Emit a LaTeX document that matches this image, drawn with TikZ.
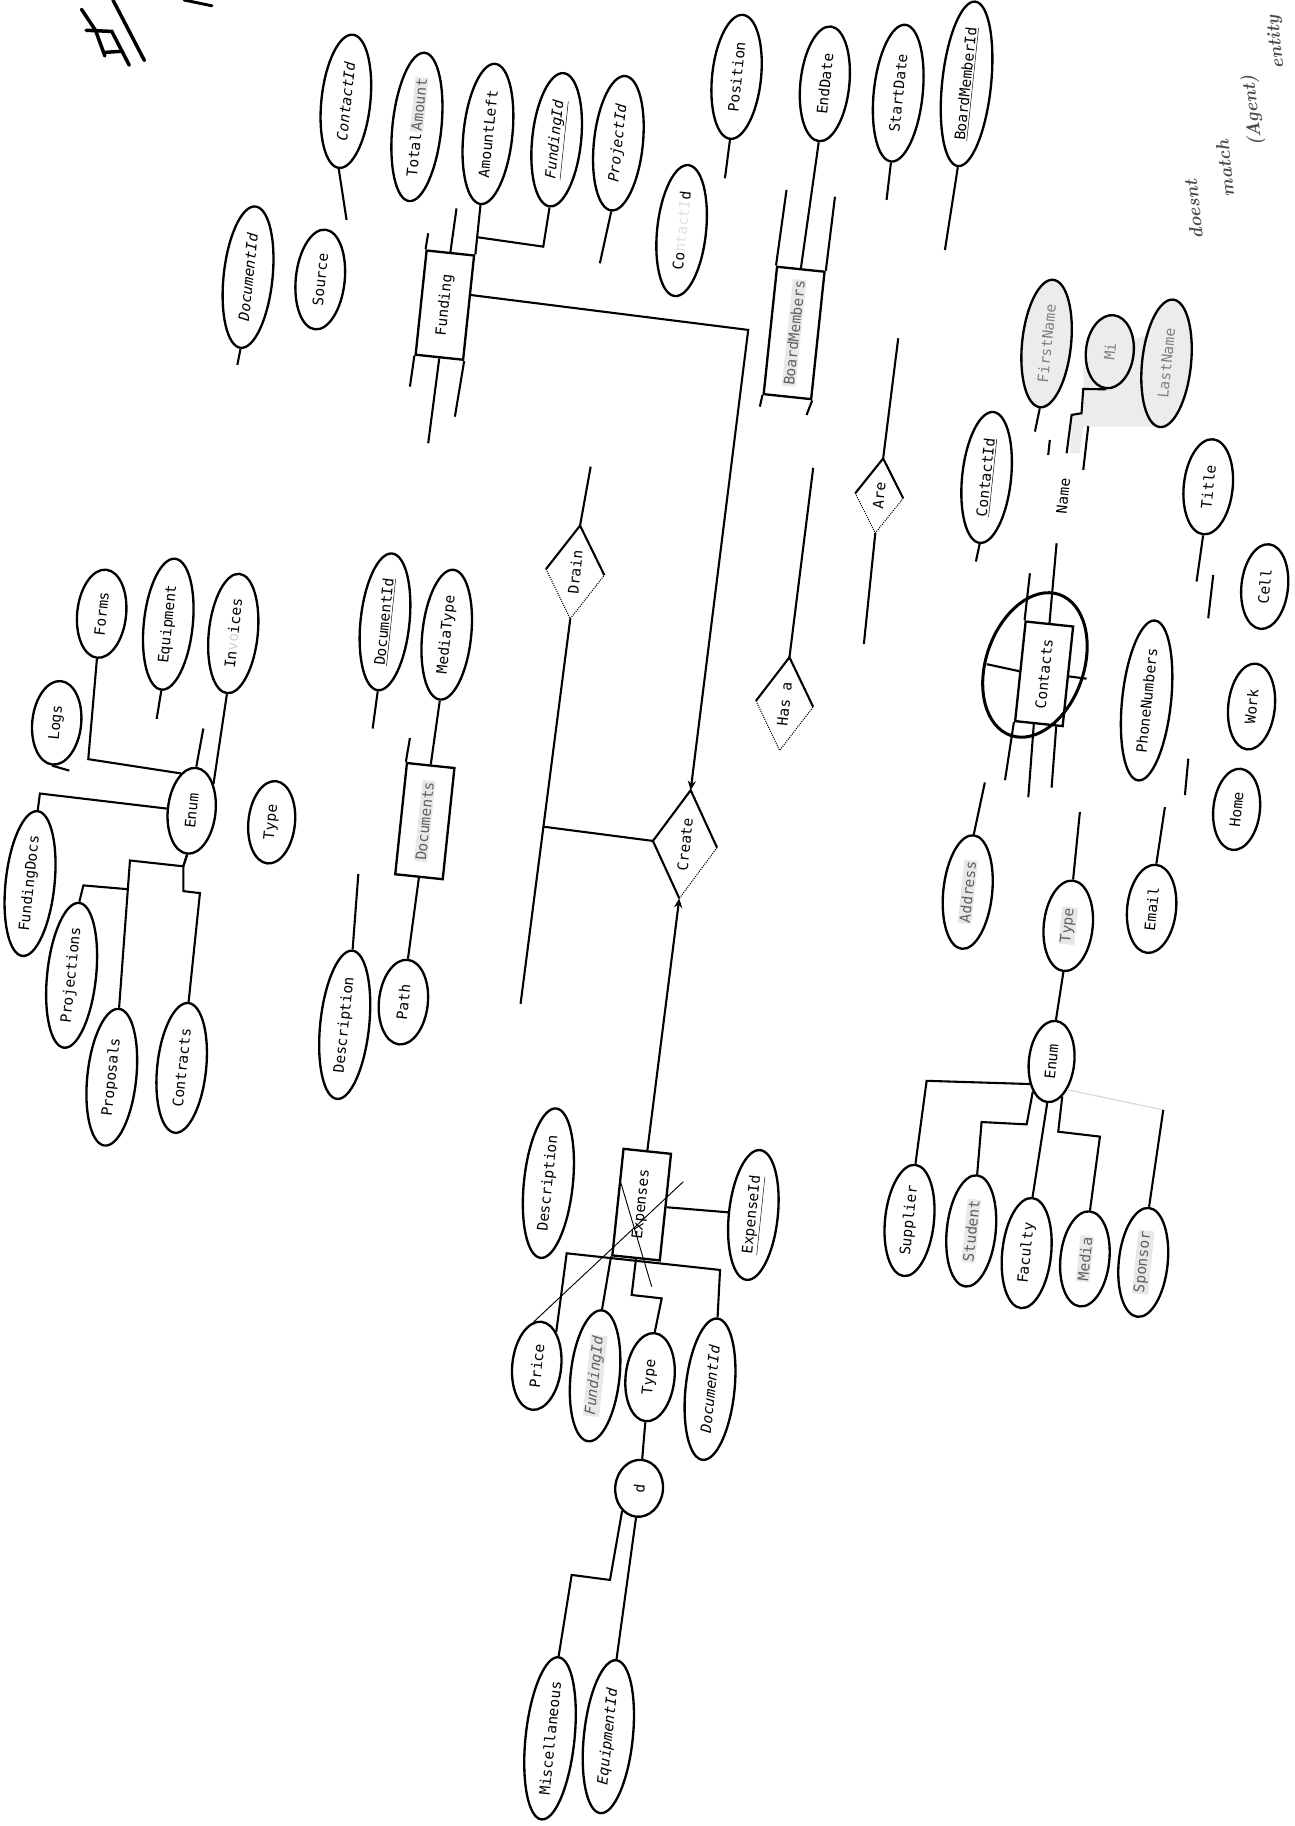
\documentclass[tikz,border=0pt]{standalone}
\usepackage{fontspec}
\setmonofont{DejaVu Sans Mono}
\usetikzlibrary{shapes.geometric,arrows.meta,calc}
\newcommand\hlt[1]{{\setlength{\fboxsep}{1pt}\colorbox{gray!18}{\textcolor{gray!75!black}{#1}}}}
\begin{document}
\begin{tikzpicture}[x=1pt,y=-1pt,
  lbl/.style={font=\ttfamily\fontsize{12.5}{14}\selectfont},
  attr/.style={ellipse, draw, line width=2pt, inner sep=0pt, rotate=84, minimum height=42pt, minimum width=#1, lbl},
  ent/.style={rectangle, draw, line width=2pt, inner sep=0pt, rotate=84, minimum height=41pt, minimum width=#1, lbl},
  rel/.style={diamond, inner sep=0pt, aspect=1.6, rotate=84, lbl},
  ln/.style={line width=1.8pt},
  faint/.style={line width=0.9pt, densely dotted},
  tip/.style={-{Stealth[length=8pt,width=7pt]}},
  hand/.style={font=\bfseries\itshape\fontsize{16}{17}\selectfont, text=black!70, rotate=96, inner sep=1pt},
]
\useasboundingbox (0,0) rectangle (1112,1568);

% ---------- handwriting ----------
\node[hand] (hw1) at (1025,180) {doesnt};
\node[hand] (hw2) at (1052,145) {match};
\node[hand] (hw3) at (1076,95) {(Agent)};
\node[hand] (hw4) at (1096,36) {entity};
\draw[line width=3pt, line cap=round] (97,0) -- (124,52);
\draw[line width=3pt, line cap=round] (70,8) -- (82,26) -- (90,48);
\draw[line width=3pt, line cap=round] (74,26) -- (96,27) -- (111,56);
\draw[line width=3pt, line cap=round] (90,45) -- (105,44);
\draw[line width=2.5pt, line cap=round] (158,0) -- (182,5);

% ---------- Funding cluster ----------
\node[attr=115pt] (cidF) at (297,87) {\itshape ContactId};
\node[attr=128pt] (tamt) at (358,109) {Total\hspace{1pt}\hlt{Amount}};
\node[attr=121pt] (aleft) at (419,115) {AmountLeft};
\node[attr=115pt] (fidF) at (478,120) {\itshape\underline{FundingId}};
\node[attr=116pt] (pid) at (531,123) {\itshape ProjectId};
\node[attr=122pt] (didF) at (213,238) {\itshape DocumentId};
\node[attr=86pt] (src) at (275,240) {Source};
\node[ent=90pt] (fund) at (382,262) {Funding};

\coordinate (fA) at (297.6,188.9);
\coordinate (fB) at (392,179);
\coordinate (fC) at (515.1,226.1);
\coordinate (fD) at (203.8,313.4);
\coordinate (fE) at (367.7,200.3);
\coordinate (fF) at (352,332);
\coordinate (fG) at (390.6,357.8);
\coordinate (fH) at (367.7,380.6);
\draw[ln] (cidF.west) -- (fA);
\draw[ln] (fund.east) -- (fB);
\draw[ln] (aleft.west) -- (fund.south east);
\draw[ln] (fidF.west) -- (466.5,211.8) -- ($(aleft.west)!0.65!(fund.south east)$);
\draw[ln] (pid.west) -- (fC);
\draw[ln] (didF.west) -- (fD);
\draw[ln] (fE) -- (fund.north east);
\draw[ln] (fund.north west) -- (fF);
\draw[ln] (fund.south west) -- (fG);
\draw[ln] (fund.west) -- (fH);

% ---------- BoardMembers cluster ----------
\node[attr=107pt] (pos) at (632.5,66) {Position};
\node[attr=99pt] (edate) at (708.3,72) {EndDate};
\node[attr=118pt] (sdate) at (771.3,80) {StartDate};
\node[attr=142pt] (bmid) at (830,72) {\underline{BoardMemberId}};
\node[attr=113pt] (cidB) at (585.3,198) {Co\textcolor{gray!25}{ntactI}d};
\node[ent=110pt] (bm) at (681.9,285.9) {\hlt{BoardMembers}};

\coordinate (bA) at (622.5,153.1);
\coordinate (bB) at (761.3,171.7);
\coordinate (bC) at (811.4,214.7);
\coordinate (bD) at (675.4,163.1);
\coordinate (bE) at (717,168.9);
\coordinate (bF) at (652.5,349.2);
\coordinate (bG) at (692.6,356.3);
\draw[ln] (pos.west) -- (bA);
\draw[ln] (edate.west) -- (bm.east);
\draw[ln] (sdate.west) -- (bB);
\draw[ln] (bmid.west) -- (bC);
\draw[ln] (bD) -- (bm.north east);
\draw[ln] (bE) -- (bm.south east);
\draw[ln] (bm.north west) -- (bF);
\draw[ln] (bm.south west) -- (bG);

% ---------- relationships ----------
\node[rel, minimum width=64pt, minimum height=41pt] (are) at (755,425.7) {Are};
\node[rel, minimum width=80pt, minimum height=49pt] (hasa) at (673.7,604.4) {Has a};
\node[rel, minimum width=80pt, minimum height=50pt] (drain) at (493.9,491.3) {Drain};
\node[rel, minimum width=93pt, minimum height=55pt] (create) at (588.2,725) {Create};
\foreach \r in {are,hasa,drain}{
  \draw[ln] (\r.north) -- (\r.east) -- (\r.south);
  \draw[faint] (\r.north) -- (\r.west) -- (\r.south);
}
\draw[ln] (create.west) -- (create.north) -- (create.east) -- (create.south);
\draw[faint] (create.south) -- (create.west);

\coordinate (aA) at (771.3,290.5);
\coordinate (aB) at (741.8,553.1);
\coordinate (hA) at (698.3,401.7);
\coordinate (dA) at (507.2,400.7);
\coordinate (dB) at (447,862);
\draw[ln] (are.east) -- (aA);
\draw[ln] (are.west) -- (aB);
\draw[ln] (hasa.east) -- (hA);
\draw[ln] (drain.east) -- (dA);
\draw[ln] (drain.west) -- (dB);
\coordinate (dJ) at ($(drain.west)!0.54!(dB)$);
\draw[ln] (create.north) -- (dJ);
\draw[ln,tip] (fund.-63) -- (642.5,283.3) -- (create.east);

% ---------- Documents cluster ----------
\node[attr=118pt] (didD) at (330.6,534) {\underline{DocumentId}};
\node[attr=112pt] (mtype) at (383.6,545) {MediaType};
\node[ent=96pt] (docs) at (364.8,705.1) {\hlt{Documents}};
\node[attr=128pt] (descD) at (296,880) {Description};
\node[attr=73pt] (path) at (346.4,860.5) {Path};
\coordinate (oA) at (320,625.6);
\coordinate (oB) at (352,633.8);
\coordinate (oC) at (307.7,750.5);
\draw[ln] (didD.west) -- (oA);
\draw[ln] (mtype.west) -- (docs.east);
\draw[ln] (oB) -- (docs.north east);
\draw[ln] (descD.east) -- (oC);
\draw[ln] (path.east) -- (docs.west);

% ---------- Documents Type enum ----------
\node[attr=74pt, minimum height=41pt] (enumA) at (164.6,696.2) {Enum};
\node[attr=71pt, minimum height=40pt] (typeA) at (233.3,706.1) {Type};
\node[attr=72pt] (logs) at (48.7,620.7) {Logs};
\node[attr=76pt] (forms) at (87.3,527) {Forms};
\node[attr=113pt] (equip) at (144.5,536) {Equipment};
\node[attr=103pt] (invo) at (200.3,544) {In\textcolor{gray!35}{vo}ices};
\node[attr=125pt] (fdocs) at (25.8,758.7) {FundingDocs};
\node[attr=125pt] (proj) at (61.5,837.5) {Projections};
\node[attr=118pt] (props) at (96,925) {Proposals};
\node[attr=112pt] (contr) at (156,917) {Contracts};
\coordinate (eA) at (59.5,661.7);
\coordinate (eB) at (134.5,617.4);
\coordinate (eC) at (174.6,625.6);
\draw[ln] (forms.west) -- (75.8,651.9) -- (enumA.22);
\draw[ln] (logs.west) -- (eA);
\draw[ln] (fdocs.east) -- (34.3,681.4) -- (enumA.91);
\draw[ln] (equip.west) -- (eB);
\draw[ln] (eC) -- (enumA.east);
\draw[ln] (invo.west) -- (enumA.-33);
\draw[ln] (enumA.west) -- (157.4,743.9) -- (111.6,738.9) -- (props.east);
\draw[ln] (enumA.west) -- (157.4,743.9) -- (157.4,765.2) -- (171.7,766.9) -- (contr.east);
\draw[ln] (proj.east) -- (71.6,760.3) -- ($(111.6,738.9)!0.195!(props.east)$);

% ---------- Contacts cluster ----------
\fill[gray!15] (930.2,332) -- (930.2,314.8) -- (978.8,289) -- (984.5,289) -- (996,366.3) -- (930.2,366.3) -- (927.3,389.2) -- (918.7,389.2) -- (920.2,354.9) -- (928.7,353.4) -- cycle;
\node[attr=110pt, fill=gray!15] (fname) at (898.7,295) {\textcolor{gray}{FirstName}};
\node[attr=63pt, minimum height=41pt, fill=gray!15] (mi) at (953,302) {\textcolor{gray}{Mi}};
\node[attr=110pt, fill=gray!15] (lname) at (1001.7,312) {\textcolor{gray}{LastName}};
\node[attr=113pt] (cidC) at (847.2,410) {\underline{ContactId}};
\node[lbl, rotate=84, inner sep=1pt] (name) at (913,426) {Name};
\node[ent=86pt] (cont) at (896.6,578.6) {Contacts};
\node[ellipse, draw, line width=2.6pt, minimum width=128pt, minimum height=84pt, rotate=71] (oval) at (888.7,571) {};
\node[attr=82pt] (title) at (1037.5,418) {Title};
\node[attr=73pt, minimum height=40pt] (cell) at (1086,503.7) {Cell};
\node[attr=74pt, minimum height=40pt] (work) at (1074.7,606.7) {Work};
\node[attr=70pt, minimum height=40pt] (home) at (1061.9,695) {Home};
\node[attr=138pt] (phone) at (984.6,601.5) {PhoneNumbers};
\node[attr=98pt] (addr) at (831,766) {\hlt{Address}};
\node[attr=78pt] (typeC) at (917.3,795) {\hlt{Type}};
\node[attr=76pt] (email) at (988.9,780.4) {Email};
\node[attr=70pt, minimum height=39pt] (enumB) at (903,911.5) {Enum};
\node[attr=96pt] (supp) at (781,1048) {Supplier};
\node[attr=96pt] (stud) at (834,1057) {\hlt{Student}};
\node[attr=95pt] (fac) at (881.6,1076) {Faculty};
\node[attr=82pt] (media) at (931.6,1081) {\hlt{Media}};
\node[attr=94pt] (spons) at (981.7,1084) {\hlt{Sponsor}};

\coordinate (nA) at (888.7,370.6);
\coordinate (nB1) at (901.5,377.8);
\coordinate (nB2) at (900.1,390.7);
\coordinate (nC) at (915.9,389.2);
\coordinate (nD1) at (934.5,366);
\coordinate (nD2) at (930.2,403.5);
\coordinate (nE) at (838,482.2);
\coordinate (nF) at (907.3,466.5);
\coordinate (nG) at (884.4,492.3);
\coordinate (nH) at (847.2,570.3);
\coordinate (nI) at (933.1,582.8);
\coordinate (nJ) at (863,670);
\coordinate (nK) at (883,684.7);
\coordinate (nL) at (903,676.4);
\coordinate (nM) at (1027.5,499.4);
\coordinate (nN1) at (1041.8,493.7);
\coordinate (nN2) at (1037.5,530.9);
\coordinate (nO1) at (1020.4,651.5);
\coordinate (nO2) at (1017.5,682.7);
\coordinate (nP) at (845.7,671.9);
\coordinate (nQ) at (927.3,697.2);
\coordinate (nR) at (1000.3,693.1);
\coordinate (nS) at (998.9,953.1);
\draw[ln] (fname.west) -- (nA);
\draw[ln] (nB1) -- (nB2);
\draw[ln] (mi.west) -- (930.2,334) -- (928.7,354.9) -- (920.2,356.3) -- (nC);
\draw[ln] (nD1) -- (nD2);
\draw[ln] (cidC.west) -- (nE);
\draw[ln] (nF) -- (cont.east);
\draw[ln] (nG) -- (cont.north east);
\draw[ln] (nH) -- (cont.north);
\draw[ln] (cont.south) -- (nI);
\draw[ln] (cont.north west) -- (nJ);
\draw[ln] ($(cont.north west)!0.4!(cont.south west)$) -- (nK);
\draw[ln] ($(cont.north west)!0.85!(cont.south west)$) -- (nL);
\draw[ln] (title.west) -- (nM);
\draw[ln] (nN1) -- (nN2);
\draw[ln] (nO1) -- (nO2);
\draw[ln] (addr.east) -- (nP);
\draw[ln] (typeC.east) -- (nQ);
\draw[ln] (typeC.west) -- (enumB.east);
\draw[ln] (email.east) -- (nR);
\draw[ln] (enumB.142) -- (795.7,928.1) -- (supp.east);
\draw[ln] (enumB.154) -- (881.6,965.5) -- (842.9,963.5) -- (stud.east);
\draw[ln] (enumB.west) -- (fac.east);
\draw[ln] (enumB.-157) -- (908.7,971.8) -- (944.5,976) -- (media.east);
\draw[gray!30, line width=1pt] (enumB.-145) -- (nS);
\draw[ln] (nS) -- (spons.east);

% ---------- Expenses cluster ----------
\node[attr=129pt] (descE) at (470.9,1016) {Description};
\node[ent=92pt] (exp) at (551,1034.4) {Expenses};
\node[attr=112pt] (eid) at (646.9,1043.3) {\underline{ExpenseId}};
\node[attr=76pt] (price) at (460.9,1172.8) {Price};
\node[attr=113pt] (fidE) at (511,1181.4) {\hlt{\itshape FundingId}};
\node[attr=76pt] (typeE) at (558.2,1182.6) {Type};
\node[attr=122pt] (didE) at (609.7,1192.9) {\itshape DocumentId};
\node[attr=49pt, minimum height=41pt] (dd) at (548.8,1278) {d};
\node[attr=140pt] (misc) at (472.3,1492.7) {Miscellaneous};
\node[attr=132pt] (eqid) at (522.4,1491.3) {\itshape EquipmentId};

\draw[ln,tip] (exp.east) -- (create.west);
\draw[ln] (exp.south) -- (eid.north);
\draw[ln] (price.-24) -- (486.6,1076.2) -- (618.3,1090.5) -- (didE.east);
\draw[ln] (exp.north west) -- (fidE.east);
\draw[ln] (exp.west) -- (542.4,1112) -- (568.2,1114.9) -- (typeE.east);
\draw[ln] (typeE.west) -- (dd.east);
\draw[ln] (dd.149) -- (523.8,1356.7) -- (490.9,1352.4) -- (misc.east);
\draw[ln] (dd.west) -- (eqid.east);
\draw[line width=0.8pt] (price.10) -- (586.8,1014.7);
\draw[line width=0.8pt] (532.4,1013.3) -- (559.6,1104.8);
\end{tikzpicture}
\end{document}
